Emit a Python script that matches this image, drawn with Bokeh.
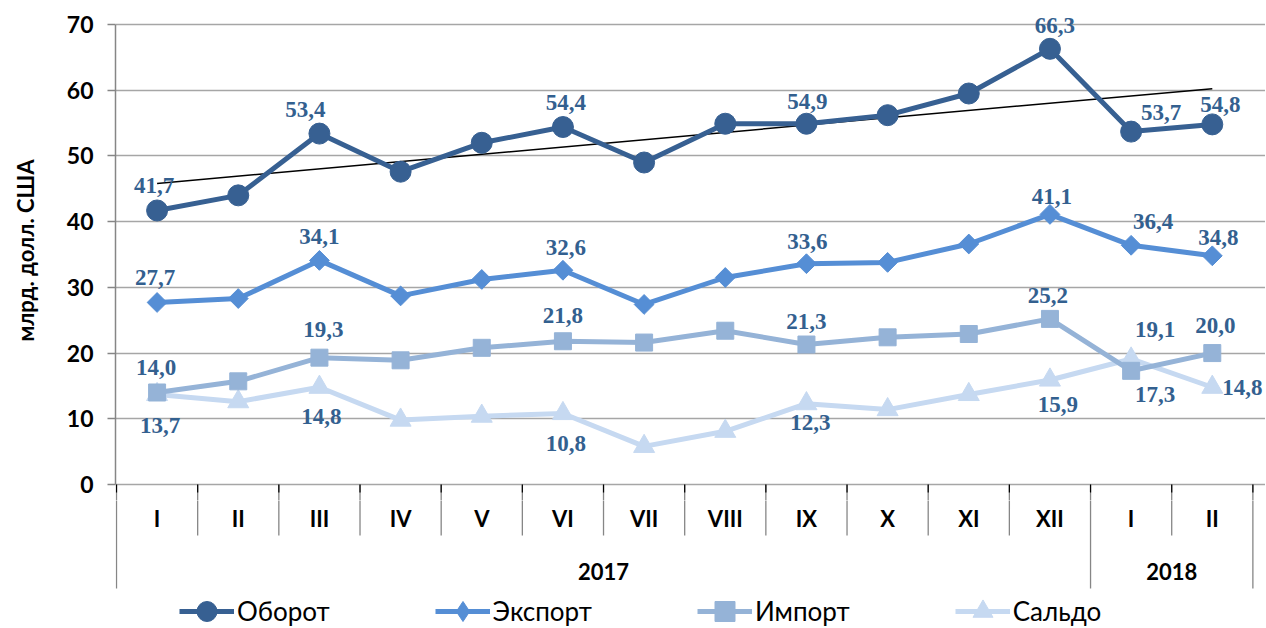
import numpy as np
from bokeh.plotting import figure
from bokeh.layouts import column
from bokeh.models import Range1d, FixedTicker, Legend, LegendItem, ColumnDataSource
from bokeh.embed import file_html
from bokeh.resources import INLINE
from bokeh.core.properties import value

# ---------------- data ----------------
months = ["I", "II", "III", "IV", "V", "VI", "VII", "VIII", "IX", "X", "XI", "XII", "I", "II"]
years = ["2017", "2018"]
year_months = [12, 2]

oborot = [41.7, 44.0, 53.4, 47.6, 52.0, 54.4, 49.0, 54.9, 54.9, 56.2, 59.5, 66.3, 53.7, 54.8]
export = [27.7, 28.3, 34.1, 28.7, 31.2, 32.6, 27.4, 31.5, 33.6, 33.8, 36.6, 41.1, 36.4, 34.8]
imp    = [14.0, 15.7, 19.3, 18.9, 20.8, 21.8, 21.6, 23.4, 21.3, 22.4, 22.9, 25.2, 17.3, 20.0]
saldo  = [13.7, 12.6, 14.8, 9.8, 10.4, 10.8, 5.8, 8.1, 12.3, 11.4, 13.7, 15.9, 19.1, 14.8]

y_ticks = [0, 10, 20, 30, 40, 50, 60, 70]

# labelled points: index and label offset (pixels)
lab_oborot = [(0, -3, -25), (2, -14, -24), (5, 3, -25), (8, 1, -22), (11, 5, -23), (12, 30, -19), (13, 8, -20)]
lab_export = [(0, -2, -25), (2, 0, -24), (5, 3, -23), (8, 1, -22), (11, 2, -18), (12, 22, -24), (13, 6, -18)]
lab_imp    = [(0, -1, -25), (2, 4, -28), (5, 0, -26), (8, 0, -23), (11, -2, -23), (12, 24, 24), (13, 3, -28)]
lab_saldo  = [(0, 3, 31), (2, 2, 29), (5, 3, 30), (8, 4, 19), (11, 8, 24), (12, 24, -29), (13, 30, 0)]

# ---------------- styles ----------------
C_OB = "#376092"
C_EX = "#558ED5"
C_IM = "#95B3D7"
C_SA = "#C6D9F1"
C_LAB = "#33608F"
GRID = "#A6A6A6"
AX = "#868686"

n = len(months)
xs = [i + 0.5 for i in range(n)]

PX_Y = 6.5714          # pixels per y unit
PX_X = 81.17           # pixels per category
TOP_PAD = 24           # px above the 70 line
BOT_PAD = 16           # px below the 0 line
FRAME_H = TOP_PAD + 460 + BOT_PAD
Y_TOP = 70 + TOP_PAD / PX_Y
Y_BOT = -BOT_PAD / PX_Y
X0 = -1 / PX_X
FRAME_W = 1150
X1 = X0 + FRAME_W / PX_X

ROW1 = -51             # px below zero line: bottom of month row
ROW2 = -104            # px below zero line: bottom of year row

p = figure(frame_width=FRAME_W, frame_height=FRAME_H,
           x_range=Range1d(X0, X1), y_range=Range1d(Y_BOT, Y_TOP),
           x_axis_type=None, output_backend="svg", toolbar_location=None,
           min_border_left=115, min_border_top=24 - TOP_PAD, min_border_right=0, min_border_bottom=0)
p.outline_line_color = None

p.yaxis.bounds = (0, 70)
p.yaxis.ticker = FixedTicker(ticks=y_ticks)
p.ygrid.ticker = FixedTicker(ticks=y_ticks)
p.ygrid.grid_line_color = GRID
p.ygrid.grid_line_width = 1.5
p.xgrid.visible = False
p.yaxis.axis_line_color = AX
p.yaxis.axis_line_width = 1.5
p.yaxis.major_tick_line_color = AX
p.yaxis.major_tick_line_width = 1.5
p.yaxis.major_tick_out = 8
p.yaxis.major_tick_in = 0
p.yaxis.minor_tick_line_color = None
p.yaxis.major_label_standoff = 14
p.yaxis.major_label_text_font = "Lato"
p.yaxis.major_label_text_font_style = "bold"
p.yaxis.major_label_text_font_size = "23px"
p.yaxis.major_label_text_color = "black"
p.yaxis.axis_label = "млрд. долл. США"
p.yaxis.axis_label_text_font = "Lato"
p.yaxis.axis_label_text_font_style = "bold"
p.yaxis.axis_label_text_font_size = "22px"
p.yaxis.axis_label_text_color = "black"
p.yaxis.axis_label_standoff = 25

# upper part of the category table (inside the bottom padding of the chart)
div_x = list(range(0, 15))
p.segment(x0=div_x, y0=[0] * 15, x1=div_x, y1=[Y_BOT - 1] * 15, line_color=AX, line_width=1.3)
p.segment(x0=div_x, y0=[0] * 15, x1=div_x, y1=[-8 / PX_Y] * 15, line_color="black", line_width=1.2)

# ---------------- series ----------------
def series(vals, color, marker, size, angle=0.0):
    l = p.line(xs, vals, line_color=color, line_width=5)
    s = p.scatter(xs, vals, marker=marker, size=size, angle=angle, fill_color=color,
                  line_color=color)
    return l, s

series(saldo, C_SA, "triangle", 21)
series(imp, C_IM, "square", 17)
series(export, C_EX, "square", 14, np.pi / 4)

# trend line of turnover
k, b = np.polyfit(np.arange(n), oborot, 1)
p.line([xs[0], xs[-1]], [b, b + k * (n - 1)], line_color="black", line_width=1.5)
series(oborot, C_OB, "circle", 21)

def labels(vals, spec):
    idx = [s[0] for s in spec]
    src = ColumnDataSource(dict(
        x=[xs[i] for i in idx], y=[vals[i] for i in idx],
        t=[f"{vals[i]:.1f}".replace(".", ",") for i in idx],
        dx=[s[1] for s in spec], dy=[s[2] for s in spec]))
    p.text(x="x", y="y", text="t", x_offset="dx", y_offset="dy", source=src,
           text_align="center", text_baseline="middle", text_font=value("Liberation Serif"),
           text_font_style="bold", text_font_size="23px", text_color=C_LAB)

labels(oborot, lab_oborot)
labels(export, lab_export)
labels(imp, lab_imp)
labels(saldo, lab_saldo)

# ---------------- category table + legend (second figure, y in pixels below zero line) ----------------
T_TOP = -BOT_PAD
T_BOT = -144
q = figure(frame_width=FRAME_W, frame_height=T_TOP - T_BOT,
           x_range=p.x_range, y_range=Range1d(T_BOT, T_TOP),
           x_axis_type=None, y_axis_type=None, output_backend="svg", toolbar_location=None,
           min_border_left=115, min_border_top=0, min_border_right=0, min_border_bottom=0)
q.outline_line_color = None
q.grid.visible = False

div_y1 = [ROW2 if d in (0, 14, year_months[0]) else ROW1 for d in div_x]
q.segment(x0=div_x, y0=[T_TOP + 1] * 15, x1=div_x, y1=div_y1, line_color=AX, line_width=1.3)

q.text(x=xs, y=[-34] * n, text=months, text_align="center", text_baseline="middle",
       text_font=value("Lato"), text_font_style="bold", text_font_size="22px", text_color="black")
yc = []
start = 0
for m in year_months:
    yc.append(start + m / 2)
    start += m
q.text(x=yc, y=[-87] * len(years), text=years, text_align="center", text_baseline="middle",
       text_font=value("Lato"), text_font_style="bold", text_font_size="22px", text_color="black")

# legend renderers (no visible data, shown only in legend)
def leg(color, marker):
    l = q.line([np.nan, np.nan], [np.nan, np.nan], line_color=color, line_width=5)
    s = q.scatter([np.nan], [np.nan], marker=marker, fill_color=color, line_color=color)
    return [l, s]

legend = Legend(items=[LegendItem(label="Оборот", renderers=leg(C_OB, "circle")),
                       LegendItem(label="Экспорт", renderers=leg(C_EX, "diamond")),
                       LegendItem(label="Импорт", renderers=leg(C_IM, "square")),
                       LegendItem(label="Сальдо", renderers=leg(C_SA, "triangle"))],
                orientation="horizontal", location=(64, -8),
                label_text_font="Lato", label_text_font_size="26px", label_text_color="black",
                glyph_width=55, glyph_height=50, label_height=26, label_standoff=3,
                spacing=105, padding=3, margin=0, border_line_color=None,
                background_fill_alpha=0)
q.add_layout(legend)

layout = column(p, q, spacing=0)
open("out.html", "w").write(file_html(layout, INLINE))
